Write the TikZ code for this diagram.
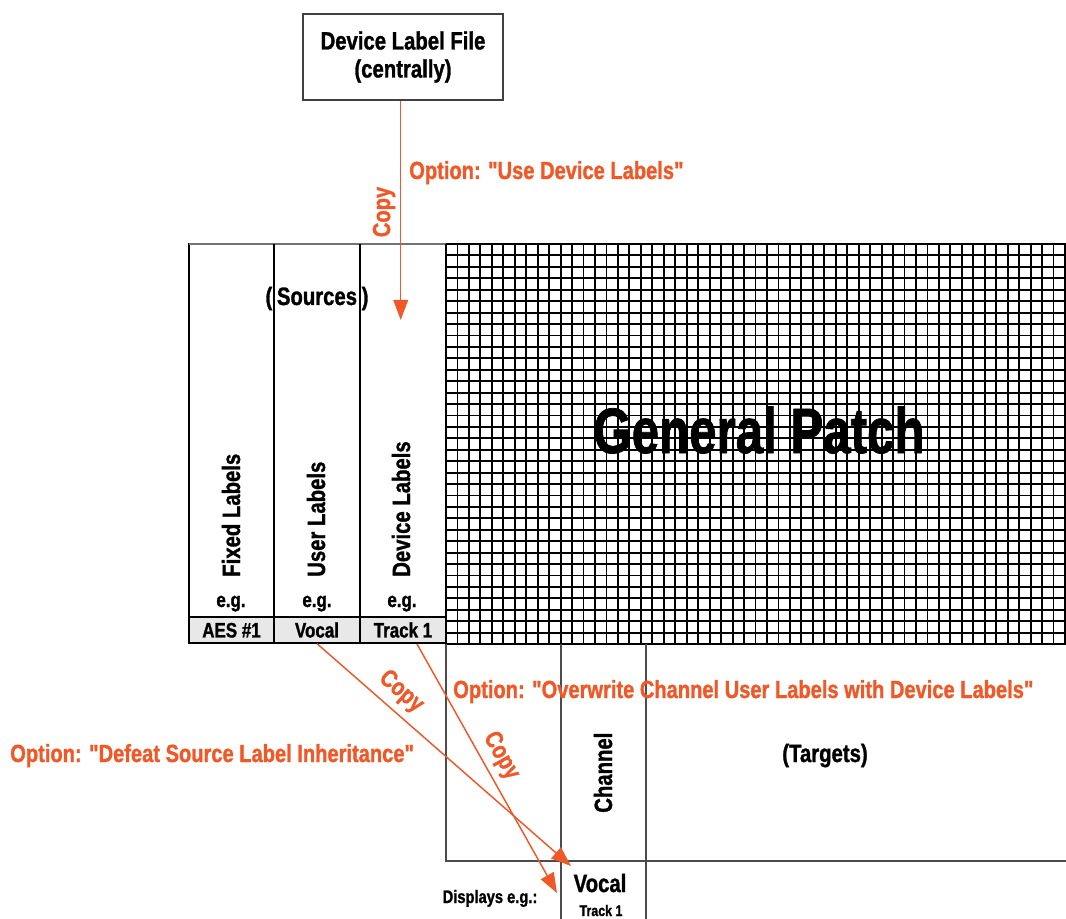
\documentclass[tikz,border=0pt]{standalone}
\usepackage{fontspec}
\setmainfont{Liberation Sans}[FakeStretch=0.81, BoldFeatures={FakeBold=1.2}, Ligatures=TeXOff]
\usetikzlibrary{arrows.meta}
\definecolor{org}{RGB}{240,88,40}
\begin{document}
\begin{tikzpicture}[x=0.75pt,y=-0.75pt,
  lbl/.style={font=\bfseries\fontsize{18.8}{21}\selectfont, inner sep=0pt},
  opt/.style={font=\bfseries\fontsize{18.6}{21}\selectfont, text=org, inner sep=0pt},
  small/.style={font=\bfseries\fontsize{15.7}{18}\selectfont, inner sep=0pt},
  cell/.style={draw=black, line width=0.9pt, fill=gray!18, minimum height=19.5pt,
    inner sep=0pt, font=\bfseries\fontsize{15.7}{18}\selectfont, text height=11.2pt, text depth=0pt},
  arr/.style={draw=org, line width=1.1pt, -{Triangle[length=15pt,width=11pt]}},
  gridl/.style={line width=1.4pt, black},
  frame/.style={line width=1pt, black},
  lframe/.style={line width=1pt, black!70},
]
\useasboundingbox (0,0) rectangle (1066,919);
% top box
\node[draw=black!75, line width=1pt, minimum width=150pt, minimum height=64.5pt, align=center, lbl]
  (dlf) at (403,57) {Device Label File\\(centrally)};
% sources table
\draw[frame] (446,244) -- (189,244) -- (189,643) -- (446,643);
\draw[line width=1.2pt, black!55] (189,244) -- (446,244);
\draw[frame] (274,244) -- (274,617);
\draw[frame] (360,244) -- (360,617);
\node[cell, minimum width=63.75pt] (caes) at (231.5,630) {AES \#1};
\node[cell, minimum width=64.5pt] (cvocal) at (317,630) {Vocal};
\node[cell, minimum width=64.5pt] (ctrack) at (403,630) {Track 1};
\node[lbl, anchor=base] (src) at (317,305) {(\hspace{3.5pt}Sources\hspace{3.5pt})};
\node[lbl, rotate=90, anchor=base west] (fixed) at (240,577) {Fixed Labels};
\node[lbl, rotate=90, anchor=base west] (user) at (325,577) {User Labels};
\node[lbl, rotate=90, anchor=base west] (devl) at (410,577) {Device Labels};
\node[small, anchor=base] (eg1) at (231,607) {e.g.};
\node[small, anchor=base] (eg2) at (317,607) {e.g.};
\node[small, anchor=base] (eg3) at (402,607) {e.g.};
% grid
\foreach \i in {0,...,54} \draw[gridl] ({446+\i*11.463},244) -- ({446+\i*11.463},644);
\foreach \j in {0,...,35} \draw[gridl] (446,{244+\j*11.43}) -- (1066,{244+\j*11.43});
\node[font=\bfseries\fontsize{48}{50}\selectfont, inner sep=0pt, anchor=base] (gp) at (759,453)
  {\scalebox{0.95}[1]{General Patch}};
% targets
\draw[lframe] (446,644) -- (446,861) -- (1066,861);
\draw[lframe] (561,644) -- (561,919);
\draw[lframe] (646,644) -- (646,919);
\node[lbl, rotate=90, anchor=base west] (chan) at (612,813) {Channel};
\node[lbl, anchor=base] (tgt) at (825,762) {(Targets)};
\node[lbl, anchor=base] (bvocal) at (600,892) {Vocal};
\node[font=\bfseries\fontsize{11.5}{13}\selectfont, inner sep=0pt, anchor=base] (btrack) at (601,916) {Track 1};
\node[font=\bfseries\fontsize{13.6}{15}\selectfont, inner sep=0pt, anchor=base] (disp) at (490,903) {Displays e.g.:};
% options
\node[opt, anchor=base west] (o1) at (409,179) {Option: "Use Device Labels"};
\node[opt, anchor=base west] (o2) at (453,698) {Option: "Overwrite Channel User Labels with Device Labels"};
\node[opt, anchor=base west] (o3) at (10,762) {Option: "Defeat Source Label Inheritance"};
% arrows
\coordinate (tA) at (400.7,320);
\coordinate (s2) at (417,644);
\coordinate (tB) at (571,866);
\coordinate (tC) at (557,893);
\draw[arr] (dlf.south -| tA) -- (tA);
\draw[arr] (cvocal.south) -- (tB);
\draw[arr] (s2) -- (tC);
\node[opt, rotate=90] (cp1) at (384,212) {Copy};
\node[opt, rotate=-41] (cp2) at (401,692) {Copy};
\node[opt, rotate=-60.7] (cp3) at (501,756) {Copy};
\end{tikzpicture}
\end{document}
